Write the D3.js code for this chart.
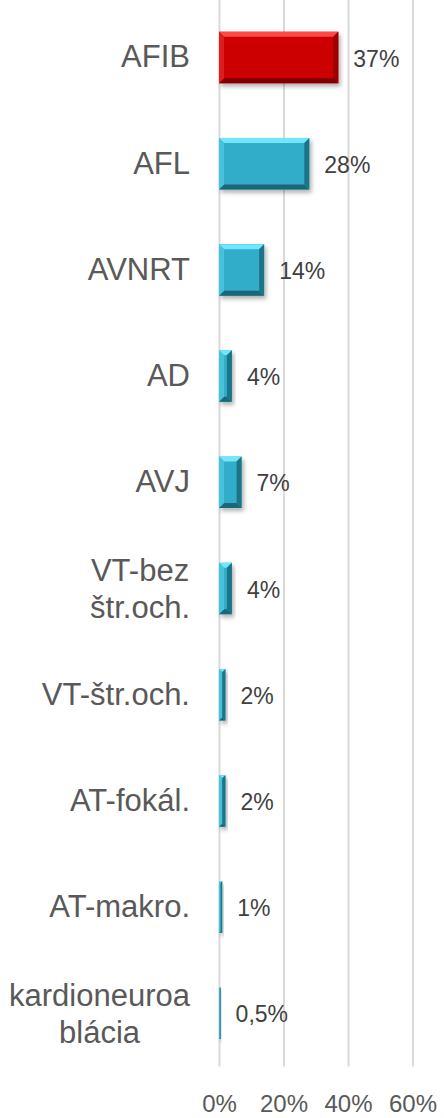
<!DOCTYPE html>
<html><head><meta charset="utf-8">
<script src="https://cdn.jsdelivr.net/npm/d3@7"></script>
<style>
html,body{margin:0;padding:0;background:#fff;}
svg{display:block;font-family:"Liberation Sans",Arial,sans-serif;}
</style></head>
<body>
<svg id="chart" width="444" height="1118"></svg>
<script>
const categories = ["AFIB","AFL","AVNRT","AD","AVJ","VT-bez\nštr.och.","VT-štr.och.","AT-fokál.","AT-makro.","kardioneuroa\nblácia"];
const values = [37,28,14,4,7,4,2,2,1,0.5];
const valueLabels = ["37%","28%","14%","4%","7%","4%","2%","2%","1%","0,5%"];
const highlight = ["AFIB"];
const xTicks = [0,20,40,60];

const svg = d3.select("#chart");
const plotTop = 4.4, plotBottom = 1066.4;

const x = d3.scaleLinear().domain([0,60]).range([219,412.5]);
const y = d3.scaleBand().domain(categories).range([plotTop, plotBottom]).paddingInner(0.515).paddingOuter(0.2575);

const defs = svg.append("defs");
const f = defs.append("filter").attr("id","sh").attr("x","-20%").attr("y","-20%").attr("width","150%").attr("height","160%");
f.append("feDropShadow").attr("dx",2).attr("dy",3).attr("stdDeviation",2).attr("flood-color","#000").attr("flood-opacity",0.3);

// gridlines
const grid = svg.append("g").attr("transform",`translate(0,${plotBottom})`)
  .call(d3.axisBottom(x).tickValues(xTicks).tickSize(-plotBottom).tickFormat(""));
grid.select(".domain").remove();
grid.selectAll("line").attr("stroke","#d9d9d9").attr("stroke-width",2);

// tick labels
const xa = svg.append("g").attr("transform",`translate(0,${plotBottom})`)
  .call(d3.axisBottom(x).tickValues(xTicks).tickSize(0).tickFormat(d => d + "%"));
xa.select(".domain").remove();
xa.selectAll("text").attr("y",37).attr("dy","0.35em").attr("font-size",24).attr("fill","#595959").attr("font-family","Liberation Sans, Arial, sans-serif");

// bars
const pal = {
  red:  {base:"#cc0000", top:"#ff4a4a", left:"#e01a1a", right:"#9a0000", bottom:"#7e0000"},
  blue: {base:"#31adc9", top:"#72e6fa", left:"#45c2dc", right:"#1d7587", bottom:"#1a6677"}
};
const bars = svg.append("g");
categories.forEach((c,i) => {
  const p = highlight.includes(c) ? pal.red : pal.blue;
  const x0 = x(0), x1 = x(values[i]), y0 = y(c), h = y.bandwidth(), w = x1 - x0, y1 = y0 + h;
  const g = bars.append("g").attr("filter","url(#sh)");
  g.append("rect").attr("x",x0).attr("y",y0).attr("width",w).attr("height",h).attr("fill",p.base);
  const b = Math.min(5, w/2, h/2);
  const poly = (pts, col) => g.append("polygon").attr("points", pts.map(q=>q.join(",")).join(" ")).attr("fill",col);
  poly([[x0,y0],[x1,y0],[x1-b,y0+b],[x0+b,y0+b]], p.top);
  poly([[x0,y1],[x1,y1],[x1-b,y1-b],[x0+b,y1-b]], p.bottom);
  poly([[x0,y0],[x0+b,y0+b],[x0+b,y1-b],[x0,y1]], p.left);
  poly([[x1,y0],[x1-b,y0+b],[x1-b,y1-b],[x1,y1]], p.right);
});

// value labels
svg.append("g").selectAll("text").data(categories).join("text")
  .attr("x",(c,i)=>x(values[i]) + 15)
  .attr("y",c=>y(c)+y.bandwidth()/2 + 1)
  .attr("dy","0.35em")
  .attr("font-size",23)
  .attr("fill","#404040")
  .text((c,i)=>valueLabels[i]);

// category axis
const ya = svg.append("g").attr("transform",`translate(${x(0)},0)`)
  .call(d3.axisLeft(y).tickSize(0).tickPadding(29));
ya.select(".domain").remove();
ya.selectAll(".tick text").each(function(d){
  const t = d3.select(this);
  const lines = d.split("\n");
  t.text(null).attr("font-size",31).attr("fill","#595959").attr("font-family","Liberation Sans, Arial, sans-serif");
  if (lines.length === 1) {
    t.text(d);
  } else {
    const lh = 37;
    const spans = lines.map((l,k) => t.append("tspan").text(l)
      .attr("y", (k - (lines.length-1)/2) * lh).attr("dy","0.35em"));
    const widths = spans.map(s => s.node().getComputedTextLength());
    const mw = Math.max(...widths);
    t.attr("text-anchor","middle");
    spans.forEach(s => s.attr("x", -29 - mw/2));
  }
});
</script>
</body></html>
